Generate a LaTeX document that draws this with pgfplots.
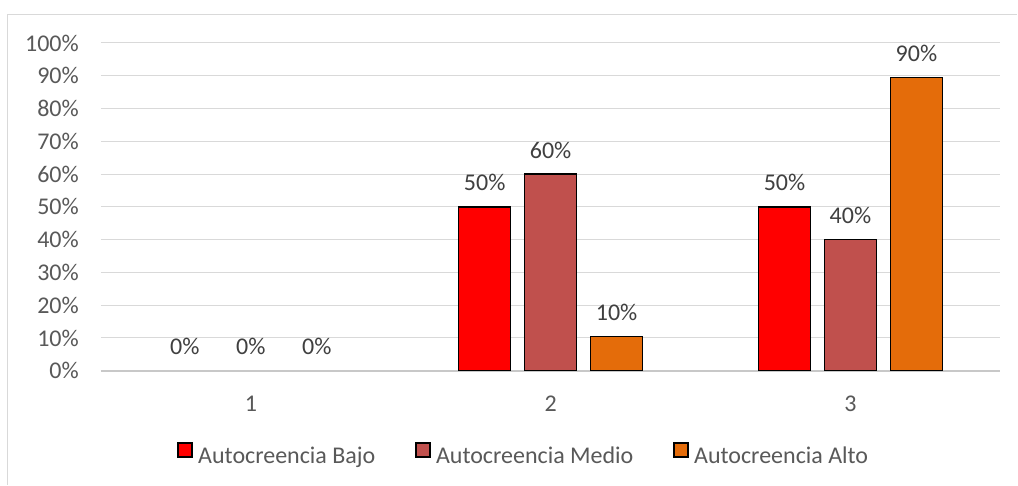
\documentclass[border=0pt]{standalone}
\usepackage{pgfplots}
\pgfplotsset{compat=1.18}
\usepackage{fontspec}
\setmainfont{Carlito}
\definecolor{cBajo}{HTML}{FF0000}
\definecolor{cMedio}{HTML}{C0504D}
\definecolor{cAlto}{HTML}{E46C0A}
\definecolor{txt}{HTML}{595959}
\definecolor{lbl}{HTML}{404040}
\definecolor{gridc}{HTML}{D9D9D9}
\definecolor{axisc}{HTML}{C8C8C8}
\begin{document}
\fontsize{24}{28}\selectfont
\begin{tikzpicture}[x=1pt,y=1pt]
\fill[white] (0,0) rectangle (1018,485);
\draw[gridc, line width=1.3pt] (7.5,0) -- (7.5,470.5) -- (1018,470.5);
\begin{axis}[
  at={(101pt,114pt)}, anchor=south west,
  scale only axis, width=900pt, height=328pt,
  xmin=0.5, xmax=3.5, ymin=0, ymax=100,
  xtick={1,2,3}, ytick={0,10,...,100},
  /pgf/number format/assume math mode=true,
  yticklabel={\pgfmathprintnumber{\tick}\%},
  major tick length=0pt,
  ymajorgrids, grid style={gridc, line width=1pt},
  axis x line*=bottom,
  axis y line*=left,
  y axis line style={draw=none},
  x axis line style={-, axisc, line width=1.5pt},
  tick label style={font=\fontsize{24}{28}\selectfont, text=txt},
  yticklabel style={anchor=east, inner sep=0pt, xshift=-22pt},
  xticklabel style={anchor=center, inner sep=0pt, yshift=-33pt},
  clip=false,
  point meta=explicit,
  nodes near coords={\pgfmathprintnumber{\pgfplotspointmeta}\%},
  every node near coord/.append style={anchor=center, inner sep=0pt, yshift=24pt, font=\fontsize{24}{28}\selectfont, text=lbl},
  legend columns=3,
  legend style={at={(0.469,-0.256)}, anchor=center, draw=none, fill=none,
    font=\fontsize{24}{28}\selectfont, text=txt,
    nodes={inner sep=0pt},
    /tikz/every odd column/.style={column sep=5.5pt},
    /tikz/every even column/.style={column sep=40pt}},
  mylegend/.style={legend image code/.code={\draw[##1, line width=1.3pt] (0pt,0pt) rectangle (14pt,14pt);}},
  sL/.style={every node near coord/.append style={xshift=-66pt}},
  sR/.style={every node near coord/.append style={xshift=66pt}},
]
\addplot[ybar, bar width=52pt, bar shift=-66pt, fill=cBajo, draw=black, line width=1.3pt, mylegend, sL]
  coordinates {(2,50) [50] (3,50) [50]};
\addlegendentry{Autocreencia Bajo}
\addplot[ybar, bar width=52pt, bar shift=0pt, fill=cMedio, draw=black, line width=1.3pt, mylegend]
  coordinates {(2,60) [60] (3,40) [40]};
\addlegendentry{Autocreencia Medio}
\addplot[ybar, bar width=52pt, bar shift=66pt, fill=cAlto, draw=black, line width=1.3pt, mylegend, sR]
  coordinates {(2,10.5) [10] (3,89.5) [90]};
\addlegendentry{Autocreencia Alto}
\addplot[ybar, bar width=52pt, bar shift=-66pt, draw=none, fill=none, forget plot, sL] coordinates {(1,0) [0]};
\addplot[ybar, bar width=52pt, bar shift=0pt, draw=none, fill=none, forget plot] coordinates {(1,0) [0]};
\addplot[ybar, bar width=52pt, bar shift=66pt, draw=none, fill=none, forget plot, sR] coordinates {(1,0) [0]};
\end{axis}
\end{tikzpicture}
\end{document}
